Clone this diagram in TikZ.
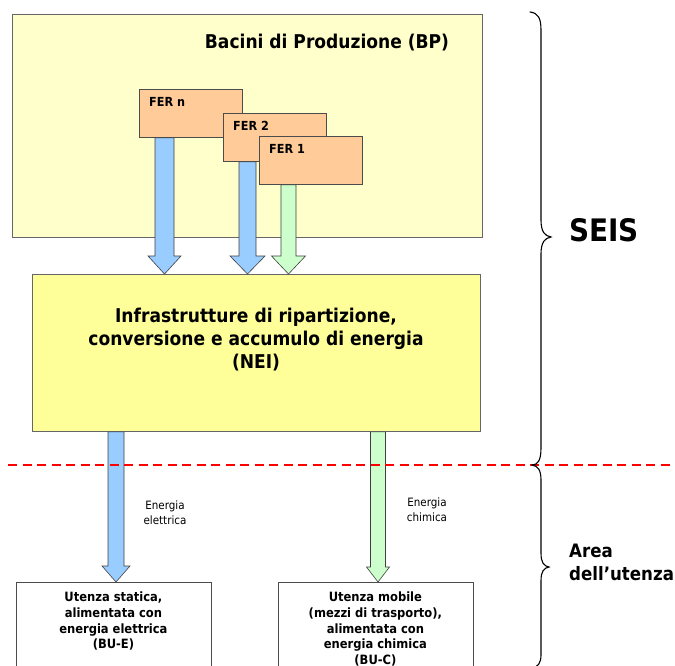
\documentclass[tikz,border=0pt]{standalone}
\usepackage{fontspec}
\setmainfont{DejaVu Sans Condensed}
\usetikzlibrary{calc}
\definecolor{bpfill}{HTML}{FFFFCC}
\definecolor{neifill}{HTML}{FFFF99}
\definecolor{ferfill}{HTML}{FFCC99}
\definecolor{elblue}{HTML}{99CCFF}
\definecolor{chgreen}{HTML}{CCFFCC}
\tikzset{
  bigbox/.style={draw=black!60, line width=0.8pt, rectangle, inner sep=0pt},
  ferbox/.style={draw=black!70, line width=0.8pt, fill=ferfill, rectangle, inner sep=0pt,
                 minimum width=103, minimum height=48, anchor=north west},
  fertext/.style={font=\bfseries\fontsize{12.5}{14}\selectfont, anchor=north west, inner sep=0pt},
  userbox/.style={draw=black!70, line width=0.8pt, fill=white, rectangle, inner sep=0pt,
                  minimum width=195, minimum height=110, anchor=north west},
  usertext/.style={font=\bfseries\fontsize{12.8}{15.6}\selectfont, align=center, anchor=north, inner sep=0pt},
  smalltext/.style={font=\fontsize{11.5}{15}\selectfont, align=center, inner sep=0pt},
  brace/.style={line width=1.1pt, line cap=round},
  arrowline/.style={draw=black!75, line width=0.6pt},
}
% block arrow: style, source node, target node, x centre, half shaft, half head, head length
\newcommand\blockarr[7]{%
  \filldraw[arrowline,#1] let \p1=(#2.south), \p2=(#3.north) in
    (#4-#5,\y1) -- (#4-#5,\y2+#7) -- (#4-#6,\y2+#7) -- (#4,\y2)
    -- (#4+#6,\y2+#7) -- (#4+#5,\y2+#7) -- (#4+#5,\y1) -- cycle;}
\begin{document}
\begin{tikzpicture}[x=1pt,y=-1pt]
\clip (0,0) rectangle (675,666);
\fill[white] (0,0) rectangle (675,666);

% production basins
\node[bigbox, fill=bpfill, minimum width=470, minimum height=223, anchor=north west] (bp) at (12,14) {};
\node[font=\bfseries\fontsize{19}{22}\selectfont, inner sep=0pt] (bptitle) at (327,43) {Bacini di Produzione (BP)};

% energy infrastructure
\node[bigbox, fill=neifill, minimum width=448, minimum height=157, anchor=north west] (nei) at (32,274) {};
\node[font=\bfseries\fontsize{19}{23}\selectfont, align=center, inner sep=0pt] (neitext) at (256,340)
  {Infrastrutture di ripartizione,\\conversione e accumulo di energia\\(NEI)};

% renewable sources
\node[ferbox] (fern) at (139,89) {};
\node[fertext] at ($(fern.north west)+(10,8)$) {FER n};
\node[ferbox] (fer2) at (223,113) {};
\node[ferbox] (fer1) at (259,136) {};

% flows into the infrastructure
\blockarr{fill=elblue}{fern}{nei}{164.5}{9.5}{16.5}{18}
\blockarr{fill=elblue}{fer2}{nei}{247.5}{8.5}{17.5}{18}
\blockarr{fill=chgreen}{fer1}{nei}{288.5}{7.5}{17}{18}
% source boxes drawn again on top of the shafts
\node[ferbox] at (223,113) {};
\node[fertext] at ($(fer2.north west)+(10,8)$) {FER 2};
\node[ferbox] at (259,136) {};
\node[fertext] at ($(fer1.north west)+(10,8)$) {FER 1};

% user side
\node[userbox] (bue) at (15.5,582) {};
\node[usertext] at ($(bue.north)+(0,10)$) {Utenza statica,\\alimentata con\\energia elettrica\\(BU-E)};
\node[userbox] (buc) at (277.5,582) {};
\node[usertext] at ($(buc.north)+(0,10)$) {Utenza mobile\\(mezzi di trasporto),\\alimentata con\\energia chimica\\(BU-C)};

\blockarr{fill=elblue}{nei}{bue}{116}{8}{14}{16}
\blockarr{fill=chgreen}{nei}{buc}{378}{7.5}{11.5}{15}

\node[smalltext] (lel) at (165,513) {Energia\\elettrica};
\node[smalltext] (lch) at (427,510) {Energia\\chimica};

% boundary between system and user area
\coordinate (dl) at (8,465);
\coordinate (dr) at (670,465);
\draw[red, line width=2.4pt, dash pattern=on 9pt off 5.5pt] (dl) -- (dr);

% braces
\coordinate (b1top) at (530,12);
\coordinate (b1tip) at (551,237);
\coordinate (b1bot) at (532,465);
\draw[brace] (b1top) .. controls (538,13) and (541,18) .. (541,30)
  -- (541,220) .. controls (541,232) and (545,236) .. (b1tip)
  .. controls (545,238) and (541,242) .. (541,254)
  -- (541,448) .. controls (541,460) and (538,465) .. (b1bot);
\coordinate (b2tip) at (549,567);
\coordinate (b2bot) at (532,668);
\draw[brace] (b1bot) .. controls (538,466) and (541,470) .. (541,480)
  -- (541,553) .. controls (541,563) and (544,566) .. (b2tip)
  .. controls (544,568) and (541,571) .. (541,581)
  -- (541,655) .. controls (541,663) and (538,667) .. (b2bot);

\node[font=\bfseries\fontsize{31}{34}\selectfont, anchor=west, inner sep=0pt] (seis) at (569,230) {SEIS};
\node[font=\bfseries\fontsize{18.5}{23}\selectfont, anchor=west, align=left, inner sep=0pt] (area) at (569,562) {Area\\dell’utenza};
\end{tikzpicture}
\end{document}
